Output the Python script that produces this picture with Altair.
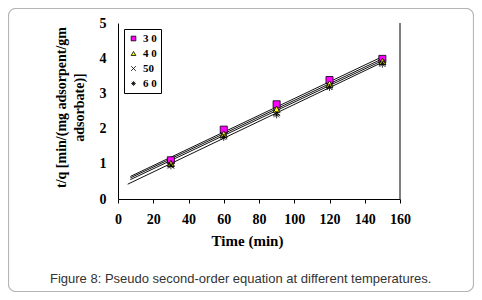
import altair as alt
import pandas as pd

# ---- data ----
series = ["3 0", "4 0", "50", "6 0"]
times = [30, 60, 90, 120, 150]
q_30 = [1.10, 1.97, 2.69, 3.38, 3.98]
q_40 = [1.01, 1.85, 2.55, 3.27, 3.91]
q_50 = [0.97, 1.80, 2.45, 3.21, 3.87]
q_60 = [0.94, 1.75, 2.39, 3.17, 3.83]

# trend lines (start / end)
line_x0 = [7, 7, 7, 5.5]
line_y0 = [0.64, 0.60, 0.55, 0.42]
line_x1 = [149, 149, 149, 149]
line_y1 = [4.02, 3.96, 3.91, 3.86]

x_ticks = [0, 20, 40, 60, 80, 100, 120, 140, 160]
y_ticks = [0, 1, 2, 3, 4, 5]

pts = pd.DataFrame({
    "t": times * 4,
    "q": q_30 + q_40 + q_50 + q_60,
    "s": sum([[s] * len(times) for s in series], []),
})
lines = pd.DataFrame({
    "t": line_x0 + line_x1,
    "q": line_y0 + line_y1,
    "s": series + series,
})
dummy = pd.DataFrame({"a": [0]})

SERIF = "Liberation Serif"
SANS = "Liberation Sans"

xscale = alt.Scale(domain=[0, 160], nice=False, zero=False)
yscale = alt.Scale(domain=[0, 5], nice=False)

xaxis = alt.Axis(values=x_ticks, title="Time (min)", grid=False,
                 labelOverlap=False, labelFlush=False,
                 labelFont=SERIF, labelFontWeight="bold", labelFontSize=14,
                 labelColor="black", labelPadding=9, tickSize=4,
                 tickColor="black", domainColor="black",
                 titleFont=SERIF, titleFontWeight="bold", titleFontSize=15,
                 titleColor="black", titleX=129, titleY=46,
                 titleBaseline="alphabetic", titleAlign="center")
yaxis = alt.Axis(values=y_ticks, title=["t/q [min/(mg adsorpent/gm", "adsorbate)]"],
                 grid=False, ticks=False, tickSize=0,
                 labelOverlap=False, labelFlush=False,
                 labelFont=SERIF, labelFontWeight="bold", labelFontSize=14,
                 labelColor="black", labelPadding=12, domainColor="black",
                 titleFont=SERIF, titleFontWeight="bold", titleFontSize=14,
                 titleColor="black", titleX=-57, titleY=84, titleAngle=270,
                 titleBaseline="middle", titleAlign="center", titleLineHeight=18)

shape_range = [
    "square",
    "triangle-up",
    "M-1,-1L1,1M-1,1L1,-1",
    "M-1,0L1,0M0,-1L0,1M-0.7,-0.7L0.7,0.7M-0.7,0.7L0.7,-0.7",
]
color_range = ["#ff00ff", "#ffff00", "#000000", "#000000"]

legend = alt.Legend(title=None, orient="none", legendX=6, legendY=6,
                    strokeColor="black", padding=4, rowPadding=3,
                    labelFont=SERIF, labelFontWeight="bold", labelFontSize=11,
                    labelColor="black", labelOffset=4, symbolSize=22,
                    symbolStrokeColor="black", symbolStrokeWidth=0.8,
                    fillColor="white")

border = alt.Chart(dummy).mark_rect(
    fill="transparent", stroke="#b5b5b5", strokeWidth=1.2, cornerRadius=7
).encode(x=alt.value(-109.5), x2=alt.value(355.5), y=alt.value(-14.5), y2=alt.value(268.5))

right_rule = alt.Chart(dummy).mark_rule(color="black", strokeWidth=1).encode(
    x=alt.value(282), y=alt.value(0), y2=alt.value(176))

trend = alt.Chart(lines).mark_line(color="#111111", strokeWidth=1).encode(
    x=alt.X("t:Q", scale=xscale, axis=xaxis),
    y=alt.Y("q:Q", scale=yscale, axis=yaxis),
    detail="s:N",
)

points = alt.Chart(pts).mark_point(filled=True, opacity=1, stroke="black",
                                    strokeWidth=0.8, size=50).encode(
    x=alt.X("t:Q", scale=xscale, axis=xaxis),
    y=alt.Y("q:Q", scale=yscale, axis=yaxis),
    shape=alt.Shape("s:N", scale=alt.Scale(domain=series, range=shape_range), legend=legend),
    color=alt.Color("s:N", scale=alt.Scale(domain=series, range=color_range), legend=legend),
)

caption = alt.Chart(dummy).mark_text(
    text="Figure 8: Pseudo second-order equation at different temperatures.",
    font=SANS, fontSize=13, color="#333333", align="left", baseline="alphabetic"
).encode(x=alt.value(-68), y=alt.value(260))

chart = alt.layer(border, right_rule, trend, points, caption).properties(
    width=282, height=176,
    autosize=alt.AutoSizeParams(type="none"),
    padding={"left": 110, "top": 15, "right": 74, "bottom": 93},
    background="white",
).configure_view(stroke="transparent").configure_axis(labelOverlap=False)

chart.save("out.html", embed_options={"renderer": "svg", "actions": False})
